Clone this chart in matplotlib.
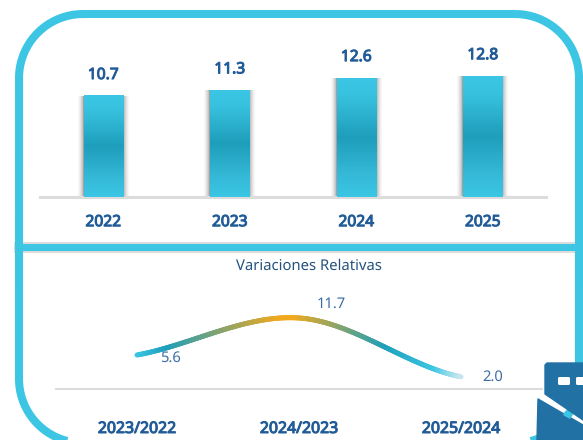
import numpy as np
import matplotlib
matplotlib.use("Agg")
import matplotlib.pyplot as plt
import matplotlib.patheffects as pe
from matplotlib.patches import FancyBboxPatch, Rectangle, Polygon, Ellipse, PathPatch
from matplotlib.path import Path
from matplotlib.collections import LineCollection
from matplotlib.colors import LinearSegmentedColormap

years = ["2022", "2023", "2024", "2025"]
amounts = [10.7, 11.3, 12.6, 12.8]
periods = ["2023/2022", "2024/2023", "2025/2024"]
variations = [5.6, 11.7, 2.0]
subtitle = "Variaciones Relativas"

W, H = 583, 440
CYAN = "#3CC6E3"
NAVY = "#225C98"
BLUE = "#3A6EA5"
GREY = "#DCDCDC"
plt.rcParams["font.family"] = ["Noto Sans", "DejaVu Sans"]
plt.rcParams["text.hinting"] = "no_hinting"
plt.rcParams["text.hinting_factor"] = 1
HEAVY = [pe.withStroke(linewidth=0.75, foreground=NAVY)]

fig = plt.figure(figsize=(W / 100, H / 100), dpi=100, facecolor="white")

def px_axes(l, top, r, bottom):
    return fig.add_axes([l / W, 1 - bottom / H, (r - l) / W, (bottom - top) / H])

def rounded_frame(x0, y0, x1, y1, r, n=40):
    corners = [(x1 - r, y0 + r, -90, 0), (x1 - r, y1 - r, 0, 90),
               (x0 + r, y1 - r, 90, 180), (x0 + r, y0 + r, 180, 270)]
    pts = []
    for cx, cy, a0, a1 in corners:
        a = np.radians(np.linspace(a0, a1, n))
        pts.append(np.column_stack([cx + r * np.cos(a), cy + r * np.sin(a)]))
    pts = np.vstack(pts + [pts[0][:1]])
    return Path(pts)

# ---- decoration layer, in pixels
deco = fig.add_axes([0, 0, 1, 1], zorder=5)
deco.set_xlim(0, W); deco.set_ylim(H, 0); deco.axis("off"); deco.patch.set_alpha(0)
deco.add_patch(Rectangle((14, 242), 561, 11, fc=GREY, ec="none"))
deco.add_patch(PathPatch(rounded_frame(19, 14, 579, 443, 64), fc="none", ec=CYAN, lw=5.8))
deco.add_patch(Rectangle((19, 244), 556, 7, fc=CYAN, ec="none"))
ICON = "#2271A4"
deco.add_patch(Polygon([(547, 363), (583, 363), (583, 420), (545, 394), (545, 365)],
                       closed=True, fc=ICON, ec=ICON, lw=1, joinstyle="round"))
deco.add_patch(Polygon([(538, 399), (583, 425), (583, 440), (537, 440)],
                       closed=True, fc=ICON, ec=ICON, lw=1, joinstyle="round"))
deco.add_patch(Polygon([(565, 411), (572, 415), (570, 419), (563, 415)],
                       closed=True, fc=CYAN, ec="none"))
for x0, x1 in [(558, 570), (576, 590)]:
    deco.add_patch(FancyBboxPatch((x0 + 1.5, 378.5), x1 - x0 - 3, 5,
                                  boxstyle="round,pad=1.5,rounding_size=1.5",
                                  fc="white", ec="none"))
deco.text(309, 266, subtitle, color="#24527F", fontsize=10.7, ha="center", va="center")

# ---- bars
PXU = 9.44
ax = px_axes(40, 197 - 14 * PXU, 546, 197)
ax.set_xlim(-0.5, 3.5); ax.set_ylim(0, 14)
ax.patch.set_alpha(0)
bar_w = 39 / 126.33
px_x = 1 / 126.33
grad_cmap = LinearSegmentedColormap.from_list("bar", [(0, "#3AC6E4"), (0.14, "#38C2DF"), (0.5, "#1E9EBB"),
                                                       (0.82, "#35BAD8"), (1, "#3AC6E4")])
grad = np.linspace(0, 1, 256).reshape(-1, 1)
pos = np.arange(len(years))
for x, v in zip(pos, amounts):
    for k in range(1, 7):
        ax.add_patch(Rectangle((x - bar_w / 2 - k * px_x, 0), bar_w + 2 * k * px_x, v,
                               fc="#303030", ec="none", alpha=0.22 / k, zorder=1))
    ax.imshow(grad, extent=[x - bar_w / 2, x + bar_w / 2, 0, v], origin="upper",
              aspect="auto", cmap=grad_cmap, zorder=3, interpolation="bilinear")
    ax.annotate(f"{v:.1f}", (x, v), xytext=(0, 21), textcoords="offset pixels", ha="center", va="center",
                color=NAVY, fontsize=11.2, fontweight="bold", path_effects=HEAVY)
    ax.add_patch(Ellipse((x, -0.02), bar_w * 1.35, 0.36, fc="#555555", ec="none", alpha=0.55,
                         zorder=1, clip_on=False))
ax.set_xlim(-0.5, 3.5); ax.set_ylim(0, 14)
for s in ("top", "left", "right"):
    ax.spines[s].set_visible(False)
ax.spines["bottom"].set_color(GREY); ax.spines["bottom"].set_linewidth(2.2)
ax.set_yticks([])
ax.set_xticks(pos, years, color=NAVY, fontsize=11.2, fontweight="bold", path_effects=HEAVY)
ax.tick_params(axis="x", length=0, pad=12.5)

# ---- variation line
PXV = 6.07
ax2 = px_axes(56, 389 - 14 * PXV, 542, 389)
ax2.set_xlim(-0.5, 2.5); ax2.set_ylim(0, 14)
ax2.patch.set_alpha(0)

xv = np.arange(len(periods), dtype=float)
yv = np.array(variations, dtype=float)
# smooth (Catmull-Rom style) rendering of the three values
def smooth(x, y, n=120):
    px, py = [], []
    tx = np.gradient(x); ty = np.gradient(y) * 1.0
    ty[1] = (y[2] - y[0]) / 2
    ty[0] = (y[1] - y[0]) * 0.8; ty[-1] = (y[-1] - y[-2]) * 0.55
    for i in range(len(x) - 1):
        t = np.linspace(0, 1, n)
        h00 = 2*t**3 - 3*t**2 + 1; h10 = t**3 - 2*t**2 + t
        h01 = -2*t**3 + 3*t**2; h11 = t**3 - t**2
        px.append(h00*x[i] + h10*tx[i] + h01*x[i+1] + h11*tx[i+1])
        py.append(h00*y[i] + h10*ty[i] + h01*y[i+1] + h11*ty[i+1])
    return np.concatenate(px), np.concatenate(py)
sx, sy = smooth(xv, yv)
pts = np.column_stack([sx, sy]).reshape(-1, 1, 2)
segs = np.concatenate([pts[:-1], pts[1:]], axis=1)
line_cmap = LinearSegmentedColormap.from_list("ln", [(0, "#3AC6E4"), (0.09, "#1F9FBB"), (0.44, "#F2A81D"),
                                                      (0.49, "#EFAA20"), (0.77, "#1F9FBB"), (0.92, "#3AC6E4"),
                                                      (1, "#C5E6EE")])
lc = LineCollection(segs, cmap=line_cmap, linewidths=3.6, capstyle="round", zorder=3)
lc.set_array(np.linspace(0, 1, len(segs)))
ax2.add_collection(lc)
offsets = [(33, -3), (32, 14), (32, 0)]
for x, v, off in zip(xv, variations, offsets):
    ax2.annotate(f"{v:.1f}", (x, v), xytext=off, textcoords="offset pixels", ha="center", va="center",
                 color=BLUE, fontsize=10.6)
for s in ("top", "left", "right"):
    ax2.spines[s].set_visible(False)
ax2.spines["bottom"].set_color(GREY); ax2.spines["bottom"].set_linewidth(1.5)
ax2.set_yticks([])
ax2.set_xticks(xv, periods, color=NAVY, fontsize=11.4, fontweight="bold", path_effects=HEAVY)
ax2.tick_params(axis="x", length=0, pad=23)

fig.savefig("out.png", dpi=100)
